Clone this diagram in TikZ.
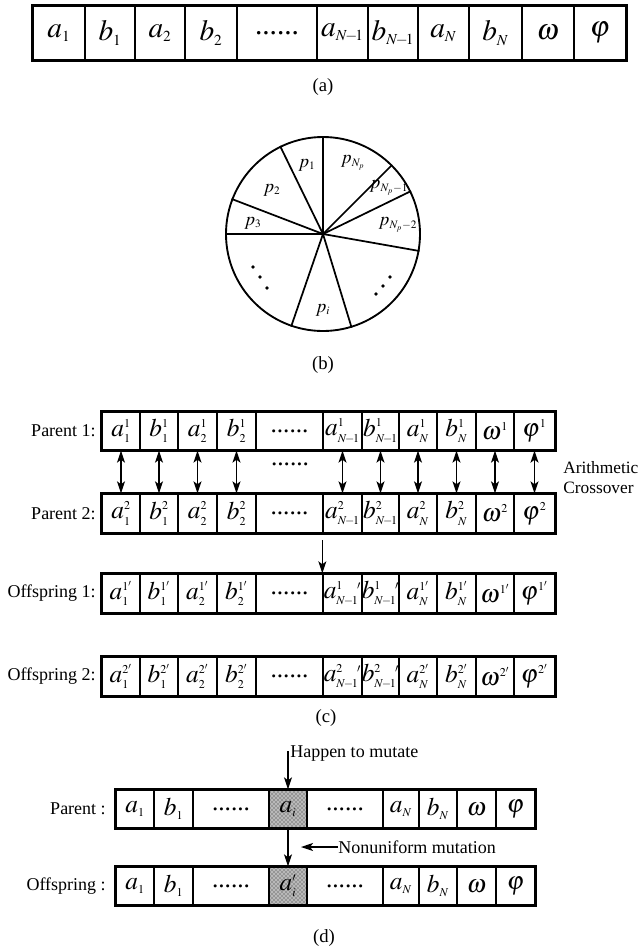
\documentclass[tikz,border=0pt]{standalone}
\usepackage{mathptmx}
\usepackage[no-math]{fontspec}
\setmainfont{Liberation Serif}
\usetikzlibrary{arrows.meta,patterns}
\DeclareMathSizes{22}{22}{11.5}{9}
\DeclareMathSizes{19}{19}{9}{7}
\DeclareMathSizes{14}{14}{8.5}{6}

\newcommand\sixdots{......}
\newcommand\nmo{N\!-\!1}
% #1 prefix, #2 top y, #3 bottom y, #4 list l/r/style/text
\newcommand\generow[4]{%
  \pgfmathsetmacro\rowh{(#3-#2)*0.75}%
  \pgfmathsetmacro\rowc{(#2+#3)/2}%
  \foreach \l/\r/\s/\t [count=\k] in {#4}{%
    \pgfmathsetmacro\cw{(\r-\l)*0.75}%
    \pgfmathsetmacro\cx{(\l+\r)/2}%
    \node[\s, minimum width=\cw pt, minimum height=\rowh pt] (#1-\k) at (\cx,\rowc) {\makebox[0pt]{\t}};
    \xdef\lastk{\k}%
  }%
  \draw[rowframe] (#1-1.north west) rectangle (#1-\lastk.south east);
}

\begin{document}
\begin{tikzpicture}[x=0.75pt,y=-0.75pt,
  cellbase/.style={draw,line width=1pt,inner sep=0pt,anchor=center},
  cA/.style={cellbase,font=\fontsize{22}{24}\selectfont},
  cC/.style={cellbase,font=\fontsize{19}{21}\selectfont},
  cS/.style={cC,preaction={fill=gray!55},pattern=crosshatch dots,pattern color=black!85},
  rowframe/.style={line width=1.8pt},
  lbl/.style={font=\fontsize{13.5}{16}\selectfont,inner sep=0pt},
  side/.style={font=\fontsize{13}{15}\selectfont,inner sep=0pt},
  captxt/.style={font=\fontsize{14}{16}\selectfont,inner sep=0pt},
  plab/.style={font=\fontsize{14}{15}\selectfont,inner sep=0pt},
  arr/.style={-{Stealth[length=9pt,width=6pt,inset=2.2pt]},line width=1.1pt},
  dbl/.style={{Stealth[length=9pt,width=6pt,inset=2.2pt]}-{Stealth[length=9pt,width=6pt,inset=2.2pt]},line width=1.1pt}]
\path[use as bounding box,fill=white] (0,0) rectangle (640,950);

% ---------------- (a)
\generow{A}{6}{60}{33/85/cA/$a_1$, 85/135/cA/$b_1$, 135/185/cA/$a_2$, 185/237/cA/$b_2$,
  237/317/cA/\sixdots, 317/368/cA/$a_{\nmo}$, 368/418/cA/$b_{\nmo}$, 418/469/cA/$a_N$,
  469/522/cA/$b_N$, 522/574/cA/$\omega$, 574/626/cA/$\varphi$}
\node[captxt] (capa) at (323,87) {(a)};

% ---------------- (b)
\node[circle,draw,line width=1.4pt,minimum size=145.5pt,inner sep=0pt] (pie) at (323,234) {};
\coordinate (pc) at (323,234);
\foreach \a in {90,116.6,159.7,180,251.1,287.7,-10.9,26.5,45.1}
  \draw[line width=1.3pt] (pc) -- (pie.\a);
\node[plab] (p1) at (307,165) {$p_1$};
\node[plab] (pn) at (353,163) {$p_{N_p}$};
\node[plab] (pn1) at (389,188) {$p_{N_p-1}$};
\node[plab] (pn2) at (398,225) {$p_{N_p-2}$};
\node[plab] (p2) at (272,190) {$p_2$};
\node[plab] (p3) at (253,223) {$p_3$};
\node[plab] (pi) at (323,310) {$p_i$};
\foreach \x/\y in {253/267,260/277,267/288,390/277,383/286,376/294}
  \fill (\x,\y) circle (1.8);
\node[captxt] (capb) at (323,365) {(b)};

% ---------------- (c)
\generow{P1}{412}{450}{102/140/cC/$a_1^1$, 140/178/cC/$b_1^1$, 178/217/cC/$a_2^1$, 217/256/cC/$b_2^1$,
  256/323/cC/\sixdots, 323/362/cC/$a_{\nmo}^1$, 362/399/cC/$b_{\nmo}^1$, 399/437/cC/$a_N^1$,
  437/476/cC/$b_N^1$, 476/514/cC/$\omega^1$, 514/555/cC/$\varphi^1$}
\generow{P2}{494}{533}{102/140/cC/$a_1^2$, 140/178/cC/$b_1^2$, 178/217/cC/$a_2^2$, 217/256/cC/$b_2^2$,
  256/323/cC/\sixdots, 323/362/cC/$a_{\nmo}^2$, 362/399/cC/$b_{\nmo}^2$, 399/437/cC/$a_N^2$,
  437/476/cC/$b_N^2$, 476/514/cC/$\omega^2$, 514/555/cC/$\varphi^2$}
\generow{O1}{574}{613}{102/140/cC/$a_1^{1^\prime}$, 140/178/cC/$b_1^{1^\prime}$, 178/217/cC/$a_2^{1^\prime}$, 217/256/cC/$b_2^{1^\prime}$,
  256/323/cC/\sixdots, 323/362/cC/$a_{\nmo}^1{}^{\!\prime}$, 362/399/cC/$b_{\nmo}^1{}^{\!\prime}$, 399/437/cC/$a_N^{1^\prime}$,
  437/476/cC/$b_N^{1^\prime}$, 476/514/cC/$\omega^{1^\prime}$, 514/555/cC/$\varphi^{1^\prime}$}
\generow{O2}{657}{696}{102/140/cC/$a_1^{2^\prime}$, 140/178/cC/$b_1^{2^\prime}$, 178/217/cC/$a_2^{2^\prime}$, 217/256/cC/$b_2^{2^\prime}$,
  256/323/cC/\sixdots, 323/362/cC/$a_{\nmo}^2{}^{\!\prime}$, 362/399/cC/$b_{\nmo}^2{}^{\!\prime}$, 399/437/cC/$a_N^{2^\prime}$,
  437/476/cC/$b_N^{2^\prime}$, 476/514/cC/$\omega^{2^\prime}$, 514/555/cC/$\varphi^{2^\prime}$}
\node[lbl,anchor=east] (lp1) at ([xshift=-4pt]P1-1.west) {Parent 1:};
\node[lbl,anchor=east] (lp2) at ([xshift=-4pt]P2-1.west) {Parent 2:};
\node[lbl,anchor=east] (lo1) at ([xshift=-4pt]O1-1.west) {Offspring 1:};
\node[lbl,anchor=east] (lo2) at ([xshift=-4pt]O2-1.west) {Offspring 2:};
\foreach \k in {1,2,3,4,6,7,8,9,10,11}
  \draw[dbl] (P1-\k.south) -- (P2-\k.north);
\node[inner sep=0pt,font=\fontsize{19}{21}\selectfont] (mdots) at (290,464) {\sixdots};
\node[side,anchor=west] (arith) at (563,468) {Arithmetic};
\node[side,anchor=west] (cross) at (563,488) {Crossover};
\draw[arr,shorten <=5pt] (P2-6.south west) -- (O1-6.north west);
\node[captxt] (capc) at (326,718) {(c)};

% ---------------- (d)
\generow{D}{790}{828}{116/154/cC/$a_1$, 154/193/cC/$b_1$, 193/269/cC/\sixdots, 269/307/cS/$a_i$,
  307/383/cC/\sixdots, 383/419/cC/$a_N$, 419/457/cC/$b_N$, 457/496/cC/$\omega$, 496/535/cC/$\varphi$}
\generow{E}{867}{905}{116/154/cC/$a_1$, 154/193/cC/$b_1$, 193/269/cC/\sixdots, 269/307/cS/$a_i'$,
  307/383/cC/\sixdots, 383/419/cC/$a_N$, 419/457/cC/$b_N$, 457/496/cC/$\omega$, 496/535/cC/$\varphi$}
\node[lbl,anchor=east] (ldp) at ([xshift=-7pt]D-1.west) {Parent :};
\node[lbl,anchor=east] (ldo) at ([xshift=-7pt]E-1.west) {Offspring :};
\node[lbl,anchor=west] (hm) at (290,754) {Happen to mutate};
\coordinate (hmtop) at (288,751);
\draw[arr] (hmtop) -- (D-4.north);
\draw[arr] (D-4.south) -- (E-4.north);
\node[lbl,anchor=west] (nm) at (338,847) {Nonuniform mutation};
\coordinate (nmtip) at (301,847);
\draw[arr] (nm.west) -- (nmtip);
\node[captxt] (capd) at (324,938) {(d)};
\end{tikzpicture}
\end{document}
